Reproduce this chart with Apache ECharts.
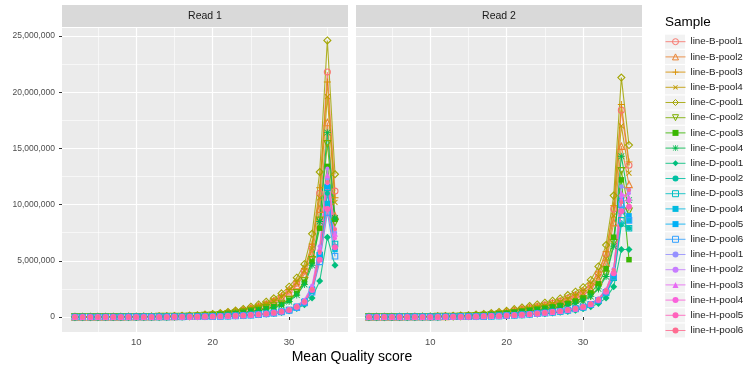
<!DOCTYPE html>
<html>
<head>
<meta charset="utf-8">
<script src="https://cdn.jsdelivr.net/npm/echarts@6/dist/echarts.min.js"></script>
<style>
  html, body { margin: 0; padding: 0; background: #ffffff; }
  #chart { width: 748px; height: 374px; }
</style>
</head>
<body>
<div id="chart"></div>
<script>
// Mean quality score bins (x) shared by every sample line
const qualityScores = [2,3,4,5,6,7,8,9,10,11,12,13,14,15,16,17,18,19,20,21,22,23,24,25,26,27,28,29,30,31,32,33,34,35,36];

const sampleNames = [
  'line-B-pool1','line-B-pool2','line-B-pool3','line-B-pool4',
  'line-C-pool1','line-C-pool2','line-C-pool3','line-C-pool4',
  'line-D-pool1','line-D-pool2','line-D-pool3','line-D-pool4','line-D-pool5','line-D-pool6',
  'line-H-pool1','line-H-pool2','line-H-pool3','line-H-pool4','line-H-pool5','line-H-pool6'
];

const facetTitles = ['Read 1', 'Read 2'];

// Axis breaks (reads in millions on y)
const xTicks = [10, 20, 30];
const xMinorTicks = [5, 15, 25, 35];
const yTicksM = [0, 5, 10, 15, 20, 25];
const yMinorTicksM = [2.5, 7.5, 12.5, 17.5, 22.5];

// Read counts per quality bin, in millions, one row per sample (order of sampleNames)
const read1Millions = [
  [0.01,0.01,0.01,0.01,0.01,0.01,0.02,0.02,0.02,0.03,0.03,0.04,0.05,0.06,0.08,0.10,0.13,0.17,0.22,0.29,0.37,0.47,0.60,0.76,0.93,1.13,1.40,1.78,2.30,3.00,4.10,6.20,11.0,21.8,11.2],
  [0.01,0.01,0.01,0.01,0.01,0.01,0.01,0.02,0.02,0.02,0.03,0.04,0.05,0.06,0.07,0.09,0.12,0.16,0.21,0.27,0.35,0.44,0.56,0.71,0.88,1.07,1.32,1.68,2.15,2.80,3.80,5.60,9.6,17.3,9.0],
  [0.01,0.01,0.01,0.01,0.01,0.02,0.02,0.02,0.03,0.03,0.04,0.05,0.06,0.07,0.09,0.11,0.14,0.19,0.24,0.31,0.40,0.51,0.65,0.82,1.00,1.22,1.50,1.90,2.45,3.20,4.30,6.50,11.5,20.9,10.6],
  [0.01,0.01,0.01,0.01,0.01,0.01,0.02,0.02,0.02,0.03,0.03,0.04,0.05,0.06,0.08,0.10,0.13,0.18,0.23,0.30,0.38,0.49,0.62,0.78,0.96,1.17,1.44,1.82,2.35,3.05,4.10,6.10,10.6,19.6,10.2],
  [0.01,0.01,0.01,0.01,0.02,0.02,0.02,0.03,0.03,0.04,0.05,0.06,0.07,0.09,0.11,0.13,0.16,0.21,0.27,0.35,0.45,0.57,0.72,0.92,1.12,1.36,1.66,2.10,2.70,3.50,4.70,7.40,12.9,24.6,12.7],
  [0.01,0.01,0.01,0.01,0.01,0.01,0.01,0.01,0.02,0.02,0.02,0.03,0.03,0.04,0.05,0.07,0.09,0.12,0.16,0.20,0.26,0.33,0.43,0.55,0.67,0.81,0.98,1.20,1.55,2.15,3.20,5.10,8.6,15.4,8.4],
  [0.01,0.01,0.01,0.01,0.01,0.01,0.01,0.01,0.01,0.02,0.02,0.03,0.03,0.04,0.05,0.06,0.08,0.11,0.15,0.19,0.24,0.31,0.41,0.53,0.63,0.76,0.92,1.12,1.50,2.10,3.10,4.90,7.9,13.4,8.7],
  [0.00,0.01,0.01,0.01,0.01,0.01,0.01,0.01,0.01,0.02,0.02,0.02,0.03,0.04,0.04,0.05,0.07,0.10,0.13,0.17,0.22,0.29,0.37,0.48,0.58,0.70,0.85,1.05,1.38,1.95,2.90,4.60,8.5,16.4,8.8],
  [0.00,0.00,0.00,0.00,0.00,0.00,0.00,0.00,0.01,0.01,0.01,0.01,0.01,0.01,0.01,0.02,0.02,0.03,0.04,0.05,0.07,0.09,0.12,0.15,0.19,0.24,0.31,0.40,0.53,0.75,1.10,1.70,3.2,7.1,4.6],
  [0.00,0.00,0.00,0.00,0.00,0.00,0.01,0.01,0.01,0.01,0.01,0.01,0.01,0.02,0.02,0.02,0.03,0.04,0.05,0.07,0.09,0.12,0.15,0.19,0.24,0.30,0.38,0.48,0.64,0.90,1.35,2.30,5.3,11.0,6.3],
  [0.00,0.00,0.00,0.00,0.00,0.00,0.01,0.01,0.01,0.01,0.01,0.01,0.01,0.02,0.02,0.02,0.03,0.04,0.05,0.07,0.09,0.11,0.14,0.18,0.23,0.29,0.37,0.47,0.62,0.88,1.30,2.40,5.5,11.5,6.5],
  [0.00,0.00,0.00,0.00,0.00,0.00,0.01,0.01,0.01,0.01,0.01,0.01,0.01,0.01,0.02,0.02,0.03,0.04,0.05,0.06,0.08,0.11,0.14,0.18,0.22,0.28,0.36,0.46,0.60,0.85,1.28,2.30,5.2,10.1,6.0],
  [0.00,0.00,0.00,0.00,0.00,0.00,0.01,0.01,0.01,0.01,0.01,0.01,0.01,0.02,0.02,0.02,0.03,0.04,0.05,0.07,0.09,0.12,0.15,0.19,0.24,0.31,0.39,0.50,0.66,0.94,1.42,2.50,5.6,11.6,6.2],
  [0.00,0.00,0.00,0.00,0.00,0.00,0.00,0.01,0.01,0.01,0.01,0.01,0.01,0.01,0.01,0.02,0.02,0.03,0.04,0.06,0.08,0.10,0.13,0.17,0.21,0.27,0.34,0.44,0.58,0.82,1.24,2.20,4.9,9.3,5.4],
  [0.00,0.00,0.00,0.00,0.00,0.01,0.01,0.01,0.01,0.01,0.01,0.01,0.02,0.02,0.02,0.02,0.03,0.04,0.06,0.07,0.09,0.12,0.16,0.20,0.25,0.32,0.40,0.51,0.68,0.97,1.45,2.60,5.9,12.3,7.5],
  [0.00,0.00,0.00,0.00,0.00,0.01,0.01,0.01,0.01,0.01,0.01,0.01,0.02,0.02,0.02,0.03,0.03,0.05,0.06,0.08,0.10,0.13,0.17,0.21,0.27,0.34,0.43,0.55,0.72,1.02,1.52,2.80,6.3,13.2,7.8],
  [0.00,0.00,0.00,0.00,0.00,0.01,0.01,0.01,0.01,0.01,0.01,0.01,0.02,0.02,0.02,0.02,0.03,0.04,0.06,0.07,0.10,0.12,0.16,0.20,0.26,0.33,0.41,0.53,0.70,0.99,1.48,2.70,6.1,12.6,7.4],
  [0.00,0.00,0.00,0.00,0.00,0.00,0.01,0.01,0.01,0.01,0.01,0.01,0.01,0.02,0.02,0.02,0.03,0.04,0.05,0.07,0.09,0.12,0.15,0.19,0.24,0.31,0.39,0.50,0.66,0.94,1.40,2.50,5.7,11.9,7.0],
  [0.00,0.00,0.00,0.00,0.00,0.00,0.01,0.01,0.01,0.01,0.01,0.01,0.01,0.02,0.02,0.02,0.03,0.04,0.05,0.07,0.09,0.11,0.14,0.18,0.23,0.29,0.37,0.47,0.62,0.89,1.33,2.40,5.1,9.6,6.2],
  [0.00,0.00,0.00,0.00,0.00,0.00,0.01,0.01,0.01,0.01,0.01,0.01,0.01,0.02,0.02,0.02,0.03,0.04,0.05,0.07,0.09,0.12,0.15,0.19,0.24,0.30,0.38,0.49,0.65,0.92,1.38,2.50,5.8,12.0,7.8]
];

const read2Millions = [
  [0.01,0.01,0.01,0.01,0.02,0.02,0.03,0.03,0.04,0.05,0.06,0.08,0.10,0.13,0.17,0.22,0.28,0.36,0.45,0.57,0.70,0.81,0.93,1.06,1.21,1.39,1.64,1.90,2.25,2.85,3.85,5.60,9.6,18.4,13.5],
  [0.01,0.01,0.01,0.01,0.01,0.02,0.02,0.03,0.03,0.04,0.05,0.07,0.09,0.11,0.15,0.19,0.24,0.31,0.39,0.49,0.60,0.70,0.80,0.91,1.04,1.20,1.41,1.65,1.95,2.45,3.30,4.80,8.4,15.2,11.8],
  [0.01,0.01,0.01,0.01,0.02,0.02,0.03,0.04,0.04,0.05,0.07,0.09,0.11,0.14,0.18,0.23,0.30,0.38,0.47,0.60,0.73,0.85,0.97,1.10,1.26,1.44,1.70,1.98,2.35,2.95,4.00,5.80,9.9,18.9,13.8],
  [0.01,0.01,0.01,0.01,0.02,0.02,0.02,0.03,0.04,0.05,0.06,0.08,0.10,0.12,0.16,0.20,0.26,0.33,0.42,0.53,0.65,0.76,0.87,0.99,1.13,1.30,1.53,1.78,2.10,2.65,3.60,5.20,9.0,17.0,12.8],
  [0.01,0.01,0.01,0.02,0.02,0.03,0.03,0.04,0.05,0.06,0.08,0.10,0.13,0.16,0.21,0.27,0.35,0.45,0.55,0.70,0.85,0.98,1.12,1.27,1.45,1.65,1.95,2.25,2.65,3.30,4.50,6.40,10.8,21.3,15.3],
  [0.01,0.01,0.01,0.01,0.01,0.01,0.02,0.02,0.02,0.03,0.04,0.05,0.06,0.08,0.11,0.14,0.18,0.23,0.29,0.37,0.45,0.53,0.61,0.70,0.80,0.92,1.08,1.27,1.50,1.90,2.60,3.80,6.6,13.0,9.4],
  [0.01,0.01,0.01,0.01,0.01,0.02,0.02,0.02,0.03,0.03,0.04,0.05,0.07,0.09,0.12,0.15,0.20,0.26,0.32,0.41,0.50,0.59,0.68,0.78,0.90,1.03,1.21,1.42,1.70,2.15,2.95,4.30,7.1,12.2,5.1],
  [0.01,0.01,0.01,0.01,0.01,0.01,0.02,0.02,0.02,0.03,0.03,0.04,0.06,0.08,0.10,0.13,0.17,0.22,0.28,0.35,0.43,0.50,0.58,0.67,0.77,0.88,1.03,1.21,1.44,1.82,2.50,3.60,6.3,14.3,10.4],
  [0.00,0.00,0.00,0.00,0.01,0.01,0.01,0.01,0.01,0.01,0.01,0.02,0.02,0.03,0.03,0.04,0.06,0.08,0.10,0.13,0.16,0.20,0.24,0.29,0.35,0.42,0.50,0.60,0.73,0.92,1.20,1.70,2.7,6.0,6.0],
  [0.00,0.00,0.00,0.00,0.01,0.01,0.01,0.01,0.01,0.01,0.02,0.02,0.03,0.03,0.04,0.05,0.07,0.09,0.12,0.15,0.19,0.23,0.28,0.34,0.41,0.49,0.59,0.71,0.86,1.08,1.45,2.10,3.4,8.2,7.9],
  [0.00,0.00,0.00,0.00,0.01,0.01,0.01,0.01,0.01,0.01,0.02,0.02,0.03,0.03,0.04,0.05,0.07,0.09,0.12,0.15,0.19,0.24,0.29,0.35,0.42,0.50,0.60,0.72,0.88,1.10,1.48,2.15,3.5,8.6,7.9],
  [0.00,0.00,0.00,0.00,0.01,0.01,0.01,0.01,0.01,0.01,0.02,0.02,0.03,0.03,0.04,0.06,0.08,0.10,0.13,0.16,0.20,0.25,0.30,0.36,0.43,0.51,0.61,0.73,0.89,1.12,1.50,2.20,3.7,9.4,8.6],
  [0.00,0.00,0.00,0.00,0.01,0.01,0.01,0.01,0.01,0.01,0.02,0.02,0.03,0.03,0.04,0.06,0.08,0.10,0.13,0.17,0.21,0.26,0.31,0.37,0.44,0.52,0.62,0.74,0.90,1.13,1.52,2.25,3.8,10.4,9.0],
  [0.00,0.00,0.00,0.00,0.01,0.01,0.01,0.01,0.01,0.01,0.02,0.02,0.03,0.03,0.04,0.06,0.08,0.10,0.13,0.16,0.20,0.25,0.30,0.36,0.43,0.51,0.61,0.73,0.88,1.11,1.49,2.20,3.6,10.0,8.6],
  [0.00,0.00,0.00,0.00,0.01,0.01,0.01,0.01,0.01,0.02,0.02,0.03,0.03,0.04,0.05,0.06,0.08,0.11,0.14,0.17,0.22,0.27,0.32,0.38,0.46,0.54,0.65,0.78,0.95,1.20,1.62,2.40,4.2,11.6,11.3],
  [0.00,0.00,0.00,0.00,0.01,0.01,0.01,0.01,0.01,0.02,0.02,0.03,0.03,0.04,0.05,0.06,0.08,0.11,0.14,0.18,0.22,0.27,0.33,0.39,0.46,0.55,0.66,0.79,0.96,1.21,1.64,2.45,4.3,10.7,11.0],
  [0.00,0.00,0.00,0.00,0.01,0.01,0.01,0.01,0.01,0.01,0.02,0.02,0.03,0.04,0.05,0.06,0.08,0.10,0.13,0.17,0.21,0.26,0.32,0.38,0.45,0.53,0.64,0.76,0.93,1.17,1.58,2.35,4.1,11.0,10.6],
  [0.00,0.00,0.00,0.00,0.01,0.01,0.01,0.01,0.01,0.01,0.02,0.02,0.03,0.03,0.05,0.06,0.08,0.10,0.13,0.17,0.21,0.26,0.31,0.37,0.44,0.52,0.63,0.75,0.92,1.15,1.55,2.30,4.0,10.4,10.3],
  [0.00,0.00,0.00,0.00,0.01,0.01,0.01,0.01,0.01,0.01,0.02,0.02,0.03,0.03,0.04,0.06,0.08,0.10,0.13,0.16,0.20,0.25,0.31,0.37,0.44,0.52,0.62,0.74,0.90,1.13,1.52,2.25,3.9,9.4,9.8],
  [0.00,0.00,0.00,0.00,0.01,0.01,0.01,0.01,0.01,0.02,0.02,0.03,0.03,0.04,0.05,0.06,0.08,0.11,0.14,0.17,0.22,0.27,0.32,0.38,0.46,0.54,0.65,0.77,0.94,1.19,1.60,2.40,4.2,10.2,11.3]
];

// ---- styling ----
const FONT = '"Liberation Sans", Arial, Helvetica, sans-serif';
const hueColors = [
  '#F8766D','#EA8331','#D89000','#C09B00','#A3A500','#7CAE00','#39B600','#00BB4E',
  '#00BF7D','#00C1A3','#00BFC4','#00BAE0','#00B0F6','#35A2FF','#9590FF','#C77CFF',
  '#E76BF3','#FA62DB','#FF62BC','#FF6C91'
];
const PLUS = 'path://M4.3,0H5.7V4.3H10V5.7H5.7V10H4.3V5.7H0V4.3H4.3Z';
const STAR = 'path://M4.4,0H5.6V10H4.4Z M0,4.4H10V5.6H0Z M1.2,0.4L9.6,8.8L8.8,9.6L0.4,1.2Z M8.8,0.4L9.6,1.2L1.2,9.6L0.4,8.8Z';
// symbol shape per sample: [symbol, size, hollow, rotate]
const shapes = [
  ['circle',6,true,0], ['triangle',6.5,true,0], [PLUS,7,false,0], [PLUS,7,false,45],
  ['diamond',7,true,0], ['triangle',6.5,true,180], ['rect',5.5,false,0], [STAR,7,false,0],
  ['diamond',7,false,0], ['circle',5,false,0], ['rect',5.5,true,0], ['rect',5.5,false,0],
  ['rect',5.5,false,0], ['rect',5.5,true,0], ['circle',4.5,false,0], ['circle',4,false,0],
  ['triangle',6,false,0], ['circle',4,false,0], ['circle',6,false,0], ['circle',4,false,0]
];

const X_MIN = 0.3, X_MAX = 37.7;
const Y_MIN = -1.334, Y_MAX = 25.71;
const panelLefts = [62, 356];
const PANEL_TOP = 28, PANEL_W = 286, PANEL_H = 304;

const grids = panelLefts.map(l => ({
  left: l, top: PANEL_TOP, width: PANEL_W, height: PANEL_H,
  show: true, backgroundColor: '#EBEBEB', borderWidth: 0, containLabel: false
}));

const xAxes = [], yAxes = [];
// minor grid axes first so major lines sit on top
[0, 1].forEach(p => {
  xAxes.push({
    type: 'value', gridIndex: p, position: 'bottom', min: X_MIN, max: X_MAX,
    axisLine: { show: false }, axisLabel: { show: false },
    axisTick: { show: false, customValues: xMinorTicks },
    splitLine: { show: true, lineStyle: { color: '#FFFFFF', width: 0.6 } }
  });
  yAxes.push({
    type: 'value', gridIndex: p, position: 'left', min: Y_MIN, max: Y_MAX,
    axisLine: { show: false }, axisLabel: { show: false },
    axisTick: { show: false, customValues: yMinorTicksM },
    splitLine: { show: true, lineStyle: { color: '#FFFFFF', width: 0.6 } }
  });
});
[0, 1].forEach(p => {
  xAxes.push({
    type: 'value', gridIndex: p, position: 'bottom', min: X_MIN, max: X_MAX,
    axisLine: { show: false },
    axisTick: { show: true, length: 3, lineStyle: { color: '#333333', width: 1 }, customValues: xTicks },
    axisLabel: { show: true, customValues: xTicks, color: '#4D4D4D', fontSize: 9.5, fontFamily: FONT, margin: 5 },
    splitLine: { show: true, lineStyle: { color: '#FFFFFF', width: 1.2 } }
  });
  yAxes.push({
    type: 'value', gridIndex: p, position: 'left', min: Y_MIN, max: Y_MAX,
    axisLine: { show: false },
    axisTick: { show: p === 0, length: 3, lineStyle: { color: '#333333', width: 1 }, customValues: yTicksM },
    axisLabel: {
      show: p === 0, customValues: yTicksM, color: '#4D4D4D', fontSize: 8.5, fontFamily: FONT, margin: 7,
      formatter: v => Math.round(v * 1e6).toLocaleString('en-US')
    },
    splitLine: { show: true, lineStyle: { color: '#FFFFFF', width: 1.2 } }
  });
});

const series = [];
[read1Millions, read2Millions].forEach((rows, p) => {
  rows.forEach((vals, i) => {
    const c = hueColors[i];
    const [sym, size, hollow, rot] = shapes[i];
    series.push({
      type: 'line', name: sampleNames[i],
      xAxisIndex: 2 + p, yAxisIndex: 2 + p,
      data: qualityScores.map((q, k) => [q, vals[k]]),
      color: c,
      symbol: sym, symbolSize: size, symbolRotate: rot, showAllSymbol: true,
      lineStyle: { color: c, width: 1.1, opacity: 0.85 },
      itemStyle: hollow
        ? { color: 'rgba(0,0,0,0)', borderColor: c, borderWidth: 1.1 }
        : { color: c, borderWidth: 0 },
      emphasis: { disabled: true },
      animation: false, silent: true, clip: true
    });
  });
});

// legend entries: hollow keys keep an outlined symbol
const legendData = sampleNames.map((n, i) => {
  const c = hueColors[i];
  const hollow = shapes[i][2];
  return {
    name: n,
    itemStyle: hollow
      ? { color: 'rgba(0,0,0,0)', borderColor: c, borderWidth: 1 }
      : { color: c, borderWidth: 0 },
    lineStyle: { color: c, width: 1, opacity: 0.85 }
  };
});

// strips, titles and legend key backgrounds
const graphics = [];
panelLefts.forEach((l, p) => {
  graphics.push({
    type: 'rect', left: l, top: 5, shape: { width: PANEL_W, height: 22 },
    style: { fill: '#D9D9D9' }, silent: true
  });
  graphics.push({
    type: 'text', x: l + PANEL_W / 2, y: 16,
    style: { text: facetTitles[p], fill: '#1A1A1A', font: '10.5px ' + FONT, align: 'center', verticalAlign: 'middle' },
    silent: true
  });
});
graphics.push({
  type: 'text', x: 352, y: 357,
  style: { text: 'Mean Quality score', fill: '#000000', font: '14px ' + FONT, align: 'center', verticalAlign: 'middle' },
  silent: true
});
graphics.push({
  type: 'text', x: 665, y: 22,
  style: { text: 'Sample', fill: '#000000', font: '13.5px ' + FONT, align: 'left', verticalAlign: 'middle' },
  silent: true
});
const LEGEND_TOP = 34.1, LEGEND_STEP = 15.2;
sampleNames.forEach((n, i) => {
  graphics.push({
    type: 'rect', left: 665, top: LEGEND_TOP + i * LEGEND_STEP + 0.6, z: -1,
    shape: { width: 20, height: 14 }, style: { fill: '#F2F2F2' }, silent: true
  });
});

const chart = echarts.init(document.getElementById('chart'), null, { renderer: 'canvas' });
chart.setOption({
  animation: false,
  backgroundColor: '#FFFFFF',
  grid: grids,
  xAxis: xAxes,
  yAxis: yAxes,
  legend: {
    data: legendData,
    orient: 'vertical', left: 665, top: LEGEND_TOP, padding: 0,
    itemWidth: 20, itemHeight: 7.5, itemGap: 0,
    selectedMode: false,
    lineStyle: { width: 1 },
    textStyle: { color: '#1A1A1A', fontSize: 9.8, fontFamily: FONT, lineHeight: LEGEND_STEP, padding: [0, 0, 0, 0] }
  },
  graphic: { elements: graphics },
  series: series
});
</script>
</body>
</html>
